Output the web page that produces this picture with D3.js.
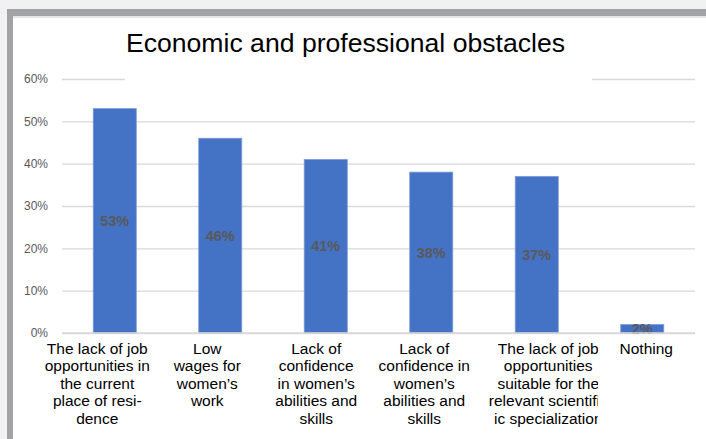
<!DOCTYPE html>
<html>
<head>
<meta charset="utf-8">
<script src="https://cdn.jsdelivr.net/npm/d3@7"></script>
<style>
  html, body { margin: 0; padding: 0; background: #f1f1f1; }
  svg { display: block; }
</style>
</head>
<body>
<svg id="chart" width="706" height="439"></svg>
<script>
// ---- data ----
const categories = [
  "The lack of job opportunities in the current place of residence",
  "Low wages for women's work",
  "Lack of confidence in women's abilities and skills (1)",
  "Lack of confidence in women's abilities and skills (2)",
  "The lack of job opportunities suitable for the relevant scientific specialization",
  "Nothing"
];
const categoryLines = [
  ["The lack of job", "opportunities in", "the current", "place of resi-", "dence"],
  ["Low", "wages for", "women\u2019s", "work"],
  ["Lack of", "confidence", "in women\u2019s", "abilities and", "skills"],
  ["Lack of", "confidence in", "women\u2019s", "abilities and", "skills"],
  ["The lack of job", "opportunities", "suitable for the", "relevant scientific", "ic specialization"],
  ["Nothing"]
];
const values = [0.53, 0.46, 0.41, 0.38, 0.37, 0.02];
const tickValues = [0, 0.1, 0.2, 0.3, 0.4, 0.5, 0.6];
const title = "Economic and professional obstacles";

// ---- layout (not data) ----
const labelOffsets = [-17.5, -13, -9.5, -7, 11.5, 4];
const W = 706, H = 439;
const plot = { left: 62, right: 695, top: 79, bottom: 333 };

const svg = d3.select("#chart");

// outer frame
svg.append("rect").attr("x", 0).attr("y", 0).attr("width", W).attr("height", H).attr("fill", "#f1f1f1");
svg.append("rect").attr("x", 7).attr("y", 9).attr("width", W - 7).attr("height", H - 9).attr("fill", "#a1a2a6");
svg.append("rect").attr("x", 13).attr("y", 16).attr("width", W - 13).attr("height", H - 16).attr("fill", "#e6e6e6");
svg.append("rect").attr("x", 13).attr("y", 18).attr("width", W - 13).attr("height", H - 18).attr("fill", "#ffffff");

const x = d3.scaleBand()
  .domain(categories)
  .range([plot.left, plot.right])
  .paddingInner(0.592)
  .paddingOuter(0.296);

const y = d3.scaleLinear().domain([0, 0.6]).range([plot.bottom, plot.top]);

// gridlines via axis
const grid = svg.append("g")
  .attr("transform", `translate(${plot.left},0)`)
  .call(d3.axisLeft(y).tickValues(tickValues).tickSize(-(plot.right - plot.left)).tickFormat(""));
grid.select(".domain").remove();
grid.selectAll(".tick line").attr("stroke", "#d9d9d9").attr("stroke-width", 1.3);

// tick labels
const yAxis = svg.append("g")
  .attr("transform", `translate(${plot.left},0)`)
  .call(d3.axisLeft(y).tickValues(tickValues).tickSize(0).tickPadding(14).tickFormat(d3.format(".0%")));
yAxis.select(".domain").remove();
yAxis.selectAll("text")
  .attr("fill", "#595959")
  .style("font-family", "'Liberation Sans', Arial, sans-serif")
  .style("font-size", "12px");

// title box (covers part of top gridline)
svg.append("rect").attr("x", 125).attr("y", 22).attr("width", 467).attr("height", 60).attr("fill", "#ffffff");
svg.append("text")
  .attr("x", 345.5).attr("y", 52)
  .attr("text-anchor", "middle")
  .style("font-family", "'Liberation Sans', Arial, sans-serif")
  .style("font-size", "26.6px")
  .attr("fill", "#000")
  .text(title);

// bars
svg.append("g").selectAll("rect")
  .data(values)
  .join("rect")
  .attr("x", (d, i) => x(categories[i]))
  .attr("y", d => y(d))
  .attr("width", x.bandwidth())
  .attr("height", d => y(0) - y(d))
  .attr("fill", "#4472c4")
  .attr("stroke", "#7d9bd6")
  .attr("stroke-width", 0.8);

// data labels
svg.append("g").selectAll("text")
  .data(values)
  .join("text")
  .attr("x", (d, i) => x(categories[i]) + x.bandwidth() / 2)
  .attr("y", d => (y(d) + y(0)) / 2)
  .attr("dy", "0.35em")
  .attr("text-anchor", "middle")
  .style("font-family", "'Liberation Sans', Arial, sans-serif")
  .style("font-size", "14.5px")
  .style("font-weight", "bold")
  .attr("fill", "#595959")
  .text(d => d3.format(".0%")(d));

// baseline
svg.append("line")
  .attr("x1", plot.left).attr("x2", plot.right)
  .attr("y1", y(0)).attr("y2", y(0))
  .attr("stroke", "#d9d9d9").attr("stroke-width", 1.3);

// category labels
const defs = svg.append("defs");
defs.append("clipPath").attr("id", "clip5")
  .append("rect").attr("x", 470).attr("y", 330).attr("width", 128).attr("height", 110);

const catG = svg.append("g");
categories.forEach((c, i) => {
  const cx = x(c) + x.bandwidth() / 2 + labelOffsets[i];
  const t = catG.append("text")
    .attr("text-anchor", "middle")
    .style("font-family", "'Liberation Sans', Arial, sans-serif")
    .style("font-size", "15.5px")
    .attr("fill", "#000");
  if (i === 4) t.attr("clip-path", "url(#clip5)");
  categoryLines[i].forEach((line, j) => {
    t.append("tspan").attr("x", cx).attr("y", 353.5 + j * 17.5).text(line);
  });
});
</script>
</body>
</html>
